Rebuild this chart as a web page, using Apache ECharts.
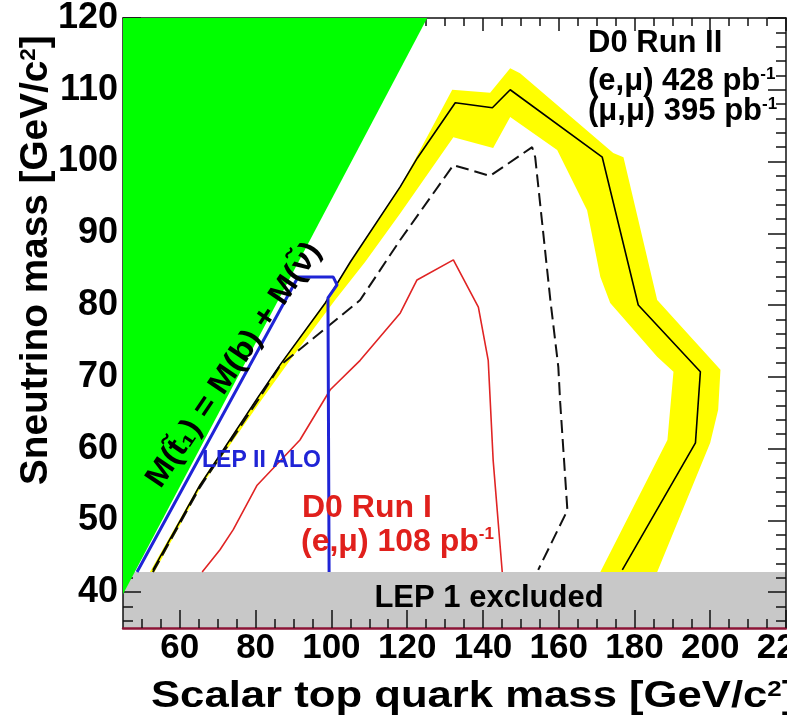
<!DOCTYPE html>
<html>
<head>
<meta charset="utf-8">
<script src="https://cdn.jsdelivr.net/npm/echarts@6/dist/echarts.min.js"></script>
<style>
  html, body { margin: 0; padding: 0; background: #ffffff; }
  #chart { width: 787px; height: 717px; }
</style>
</head>
<body>
<div id="chart"></div>
<script>
// Plot ranges in GeV/c^2
const stopRange = [45, 220];      // scalar top quark mass
const snuRange = [35, 120];       // sneutrino mass
const bQuarkMass = 5.3;           // kinematic edge: M(t1) = M(b) + M(snu)
const lep1Limit = 42.8;           // LEP 1 excluded below this sneutrino mass

// Tick positions
const xMajorTicks = [60, 80, 100, 120, 140, 160, 180, 200, 220];
const xMinorTicks = [50, 55, 65, 70, 75, 85, 90, 95, 105, 110, 115, 125, 130, 135,
                     145, 150, 155, 165, 170, 175, 185, 190, 195, 205, 210, 215];
const yMajorTicks = [40, 50, 60, 70, 80, 90, 100, 110, 120];
const yMinorTicks = [36, 38, 42, 44, 46, 48, 52, 54, 56, 58, 62, 64, 66, 68, 72, 74, 76, 78,
                     82, 84, 86, 88, 92, 94, 96, 98, 102, 104, 106, 108, 112, 114, 116, 118];

// D0 Run II observed exclusion contour, (stop mass, sneutrino mass)
const runIIObserved = [[52.9, 43.1], [65.3, 54.9], [80.7, 67.2], [86.5, 71.7], [98.4, 80.3],
  [105.0, 86.0], [118.2, 96.5], [122.7, 100.5], [132.7, 108.2], [142.5, 107.5], [147.2, 110.0],
  [171.5, 100.6], [181.0, 80.0], [197.4, 70.7], [196.1, 60.8], [176.8, 43.1]];

// Theoretical uncertainty band around it: outer and inner edges
const bandOuter = [[52.1, 42.8], [65.3, 55.1], [80.7, 67.3], [86.5, 71.8], [98.3, 80.4],
  [105.0, 86.1], [118.2, 96.6], [122.6, 100.8], [131.9, 110.0], [141.9, 109.6], [147.2, 113.0],
  [149.8, 112.3], [174.4, 101.2], [177.1, 100.6], [186.0, 80.7], [202.7, 71.0], [202.1, 65.4],
  [200.0, 60.8], [186.0, 42.8]];
const bandInner = [[53.3, 42.8], [65.8, 54.9], [81.6, 66.8], [89.1, 72.3], [101.0, 80.7],
  [108.9, 86.0], [118.2, 92.8], [132.2, 103.4], [142.7, 101.9], [147.2, 106.2], [159.6, 101.6],
  [167.5, 93.2], [171.0, 83.9], [173.6, 80.3], [186.0, 72.8], [190.3, 70.7], [188.7, 61.2],
  [171.0, 42.8]];

// D0 Run II expected contour
const runIIExpected = [[52.9, 42.8], [65.3, 54.6], [80.7, 66.8], [86.5, 71.6], [107.6, 80.7],
  [118.2, 89.1], [132.2, 99.5], [141.9, 98.0], [153.0, 102.0], [153.8, 100.6], [157.8, 80.7],
  [159.9, 71.4], [160.4, 66.4], [162.3, 51.4], [154.6, 43.1]];

// D0 Run I contour
const runIContour = [[65.9, 42.8], [70.6, 45.9], [74.1, 48.7], [80.4, 54.9], [91.7, 61.2],
  [99.7, 68.2], [107.6, 72.3], [118.2, 78.9], [122.6, 83.5], [132.2, 86.3], [138.8, 79.7],
  [141.4, 72.3], [142.7, 58.4], [145.1, 42.8]];

// LEP II ALO contour
const lep2Contour = [[48.7, 42.8], [91.2, 83.9], [100.5, 83.9], [101.5, 82.8], [99.1, 81.0],
  [99.4, 42.8]];

const FONT = '"Liberation Sans", Arial, Helvetica, sans-serif';

// Derived polygons
const kinematicRegion = [
  [stopRange[0] - 10, stopRange[0] - 10 - bQuarkMass],
  [snuRange[1] + bQuarkMass, snuRange[1]],
  [stopRange[0] - 10, snuRange[1]]
];
const lep1Region = [
  [stopRange[0], snuRange[0]], [stopRange[1], snuRange[0]],
  [stopRange[1], lep1Limit], [stopRange[0], lep1Limit]
];
const bandRegion = bandOuter.concat(bandInner.slice().reverse());

function polygonSeries(name, points, color, z) {
  return {
    type: 'custom', name: name, z: z, silent: true, clip: true,
    data: [[points[0][0], points[0][1]]],
    renderItem: function (params, api) {
      return {
        type: 'polygon',
        shape: { points: points.map(function (p) { return api.coord(p); }) },
        style: { fill: color, stroke: null }
      };
    }
  };
}

function lineSeries(name, points, color, width, type, z) {
  return {
    type: 'line', name: name, data: points, z: z, silent: true,
    symbol: 'none', showSymbol: false, clip: true, smooth: false,
    lineStyle: { color: color, width: width, type: type }
  };
}

function xAxisDef(position, ticks, len, showLine, showLabels, lineColor, lineWidth) {
  return {
    type: 'value', min: stopRange[0], max: stopRange[1], position: position, z: 5,
    axisLine: { show: showLine, onZero: false, lineStyle: { color: lineColor, width: lineWidth } },
    axisTick: { show: true, inside: true, length: len, customValues: ticks,
                lineStyle: { color: '#111', width: 1.5 } },
    axisLabel: showLabels ? { show: true, customValues: ticks, fontSize: 35, margin: 3,
                fontFamily: FONT, fontWeight: 'bold', color: '#000' } : { show: false },
    splitLine: { show: false }
  };
}

function yAxisDef(position, ticks, len, showLine, showLabels) {
  return {
    type: 'value', min: snuRange[0], max: snuRange[1], position: position, z: 5,
    axisLine: { show: showLine, onZero: false, lineStyle: { color: '#111', width: 1.5 } },
    axisTick: { show: true, inside: true, length: len, customValues: ticks,
                lineStyle: { color: '#111', width: 1.5 } },
    axisLabel: showLabels ? { show: true, customValues: ticks, fontSize: 36, margin: 5,
                padding: [10, 0, 0, 0],
                fontFamily: FONT, fontWeight: 'bold', color: '#000' } : { show: false },
    splitLine: { show: false }
  };
}

function richLabel(fill, size, supSize) {
  return {
    n: { fontSize: size, fontWeight: 'bold', fontFamily: FONT, fill: fill, color: fill },
    s: { fontSize: supSize, fontWeight: 'bold', fontFamily: FONT, fill: fill, color: fill,
         verticalAlign: 'top' }
  };
}

const chart = echarts.init(document.getElementById('chart'), null, { renderer: 'canvas' });

chart.setOption({
  animation: false,
  backgroundColor: '#ffffff',
  grid: { left: 123, right: 1, top: 18, bottom: 89, containLabel: false, outerBoundsMode: 'none' },
  xAxis: [
    xAxisDef('bottom', xMajorTicks, 18, true, true, '#8c1436', 2.5),
    xAxisDef('bottom', xMinorTicks, 9, false, false, '#000', 1),
    xAxisDef('top', xMajorTicks, 13, true, false, '#111', 1.5),
    xAxisDef('top', xMinorTicks, 8, false, false, '#000', 1)
  ],
  yAxis: [
    yAxisDef('left', yMajorTicks, 18, true, true),
    yAxisDef('left', yMinorTicks, 10, false, false),
    yAxisDef('right', yMajorTicks, 18, true, false),
    yAxisDef('right', yMinorTicks, 10, false, false)
  ],
  series: [
    polygonSeries('LEP 1 excluded', lep1Region, '#c8c8c8', 1),
    polygonSeries('Run II band', bandRegion, '#ffff00', 2),
    lineSeries('D0 Run I', runIContour, '#e02424', 1.6, 'solid', 3),
    lineSeries('Run II expected', runIIExpected, '#111111', 2, [13, 6], 3),
    lineSeries('Run II observed', runIIObserved, '#000000', 1.6, 'solid', 4),
    lineSeries('LEP II ALO', lep2Contour, '#1f24d6', 3, 'solid', 4),
    polygonSeries('kinematic limit', kinematicRegion, '#00ff00', 10)
  ],
  graphic: [
    { type: 'text', x: 37, y: 485, rotation: Math.PI / 2, scaleX: 1.02, silent: true, z: 20,
      style: { text: '{n|Sneutrino mass [GeV/c}{s|2}{n|]}', rich: richLabel('#000', 38, 22),
               align: 'left', verticalAlign: 'middle' } },
    { type: 'text', x: 151, y: 697, scaleX: 1.18, silent: true, z: 20,
      style: { text: '{n|Scalar top quark mass [GeV/c}{s|2}{n|]}', rich: richLabel('#000', 37, 22),
               align: 'left', verticalAlign: 'middle' } },
    { type: 'text', x: 588, y: 43, silent: true, z: 20,
      style: { text: '{n|D0 Run II}', rich: richLabel('#000', 31, 17),
               align: 'left', verticalAlign: 'middle' } },
    { type: 'text', x: 588, y: 81, silent: true, z: 20,
      style: { text: '{n|(e,\u03bc) 428 pb}{s|-1}', rich: richLabel('#000', 31, 17),
               align: 'left', verticalAlign: 'middle' } },
    { type: 'text', x: 588, y: 111, silent: true, z: 20,
      style: { text: '{n|(\u03bc,\u03bc) 395 pb}{s|-1}', rich: richLabel('#000', 31, 17),
               align: 'left', verticalAlign: 'middle' } },
    { type: 'text', x: 302, y: 508, silent: true, z: 20,
      style: { text: '{n|D0 Run I}', rich: richLabel('#e0201c', 32, 17),
               align: 'left', verticalAlign: 'middle' } },
    { type: 'text', x: 301, y: 542, silent: true, z: 20,
      style: { text: '{n|(e,\u03bc) 108 pb}{s|-1}', rich: richLabel('#e0201c', 32, 17),
               align: 'left', verticalAlign: 'middle' } },
    { type: 'text', x: 202, y: 461, silent: true, z: 20,
      style: { text: 'LEP II ALO', fontSize: 23, fontWeight: 'bold', fontFamily: FONT,
               fill: '#1f24d6', align: 'left', verticalAlign: 'middle' } },
    { type: 'text', x: 489, y: 598, silent: true, z: 20,
      style: { text: 'LEP 1 excluded', fontSize: 31, fontWeight: 'bold', fontFamily: FONT,
               fill: '#000', align: 'center', verticalAlign: 'middle' } },
    { type: 'text', x: 234, y: 365, rotation: 56 * Math.PI / 180, scaleX: 1.07, silent: true, z: 20,
      style: { text: 'M(t\u0303\u2081) = M(b) + M(\u03bd\u0303)', fontSize: 31, fontWeight: 'bold',
               fontFamily: FONT, fill: '#000', align: 'center', verticalAlign: 'middle' } }
  ]
});
</script>
</body>
</html>
